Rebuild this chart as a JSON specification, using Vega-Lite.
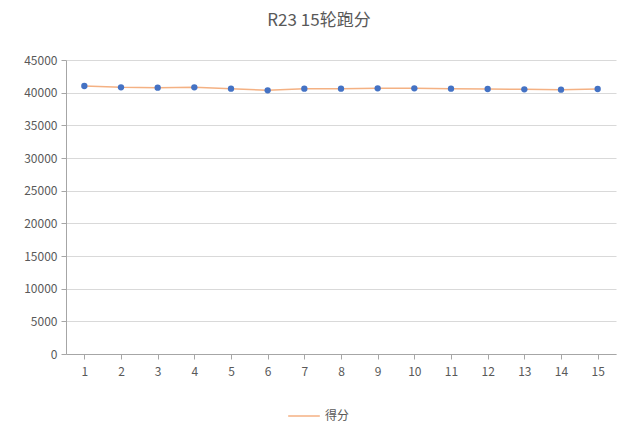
{
  "$schema": "https://vega.github.io/schema/vega-lite/v6.json",
  "autosize": {"type": "none"},
  "width": 550,
  "height": 294,
  "padding": {"left": 66, "top": 60, "right": 24, "bottom": 88},
  "background": "white",
  "title": {
    "text": "R23 15轮跑分",
    "font": "Noto Sans CJK SC",
    "fontSize": 17,
    "fontWeight": "normal",
    "color": "#595959",
    "anchor": "middle",
    "dx": -22,
    "offset": 24
  },
  "config": {
    "view": {"stroke": null},
    "font": "Noto Sans CJK SC",
    "axis": {
      "labelFont": "Noto Sans CJK SC",
      "labelFontSize": 12,
      "labelColor": "#595959",
      "domainColor": "#A6A6A6",
      "tickColor": "#A6A6A6",
      "gridColor": "#D9D9D9",
      "tickSize": 5,
      "title": null
    }
  },
  "data": {
    "values": [
      {"round": 1, "score": 41020, "series": "得分"},
      {"round": 2, "score": 40820, "series": "得分"},
      {"round": 3, "score": 40770, "series": "得分"},
      {"round": 4, "score": 40820, "series": "得分"},
      {"round": 5, "score": 40610, "series": "得分"},
      {"round": 6, "score": 40360, "series": "得分"},
      {"round": 7, "score": 40610, "series": "得分"},
      {"round": 8, "score": 40610, "series": "得分"},
      {"round": 9, "score": 40660, "series": "得分"},
      {"round": 10, "score": 40660, "series": "得分"},
      {"round": 11, "score": 40610, "series": "得分"},
      {"round": 12, "score": 40560, "series": "得分"},
      {"round": 13, "score": 40510, "series": "得分"},
      {"round": 14, "score": 40460, "series": "得分"},
      {"round": 15, "score": 40560, "series": "得分"}
    ]
  },
  "encoding": {
    "x": {
      "field": "round",
      "type": "ordinal",
      "scale": {"type": "point", "padding": 0.5},
      "axis": {"labelAngle": 0, "labelPadding": 7, "grid": false, "tickSize": 5}
    },
    "y": {
      "field": "score",
      "type": "quantitative",
      "scale": {"domain": [0, 45000], "nice": false},
      "axis": {"values": [0, 5000, 10000, 15000, 20000, 25000, 30000, 35000, 40000, 45000], "format": "d", "labelPadding": 4, "grid": true}
    }
  },
  "layer": [
    {
      "mark": {"type": "line", "strokeWidth": 1.5},
      "encoding": {
        "color": {
          "field": "series",
          "type": "nominal",
          "scale": {"range": ["#F4B183"]},
          "legend": {
            "title": null,
            "orient": "none",
            "legendX": 221,
            "legendY": 339,
            "symbolType": "stroke",
            "symbolSize": 1000,
            "symbolStrokeWidth": 1.5,
            "labelFontSize": 12,
            "labelColor": "#595959",
            "labelFont": "Noto Sans CJK SC"
          }
        }
      }
    },
    {
      "mark": {"type": "point", "filled": true, "size": 40, "color": "#4472C4", "opacity": 1}
    }
  ]
}
